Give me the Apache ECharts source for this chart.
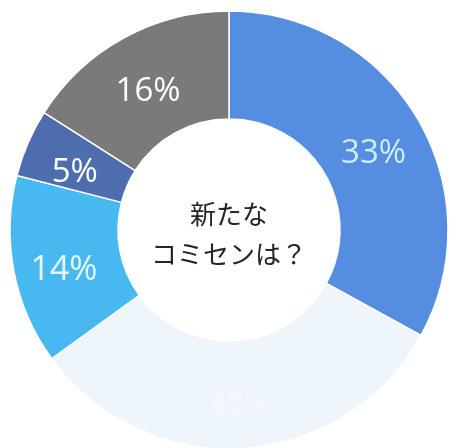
<!DOCTYPE html>
<html>
<head>
<meta charset="utf-8">
<script src="https://cdn.jsdelivr.net/npm/echarts@6/dist/echarts.min.js"></script>
<style>
  html, body { margin: 0; padding: 0; background: #fff; }
  #donut { width: 449px; height: 448px; }
</style>
</head>
<body>
<div id="donut"></div>
<script>
// clockwise from 12 o'clock
const names = ["A", "B", "C", "D", "E"];
const shares = [33, 32, 14, 5, 16];
const sliceColors = ["#558de0", "#eef6fb", "#47b8f0", "#4e6daf", "#7a7a7a"];
const labelColors = ["#c9effc", "rgba(255,255,255,0.3)", "#e6f7ff", "#ffffff", "#ffffff"];
const labelSizes = [33, 31, 34, 33, 33];
const centerLines = ["新たな", "コミセンは？"];

const chart = echarts.init(document.getElementById("donut"));

const option = {
  backgroundColor: "#fff",
  animation: false,
  graphic: [
    {
      type: "text",
      x: 229,
      y: 194,
      style: {
        text: centerLines.join("\n"),
        fill: "#262626",
        font: "26px 'Noto Sans CJK JP'",
        lineHeight: 40,
        align: "center"
      }
    }
  ],
  series: [
    {
      type: "pie",
      center: [229, 230],
      radius: [111, 219],
      startAngle: 90,
      clockwise: true,
      itemStyle: {
        borderColor: "#fff",
        borderWidth: 1.5
      },
      label: {
        position: "inside",
        formatter: "{c}%",
        fontFamily: "Open Sans",
        offset: [0, 9]
      },
      labelLine: { show: false },
      emphasis: { disabled: true },
      data: shares.map((v, i) => ({
        name: names[i],
        value: v,
        itemStyle: { color: sliceColors[i] },
        label: { color: labelColors[i], fontSize: labelSizes[i] }
      }))
    }
  ]
};
chart.setOption(option);
</script>
</body>
</html>
